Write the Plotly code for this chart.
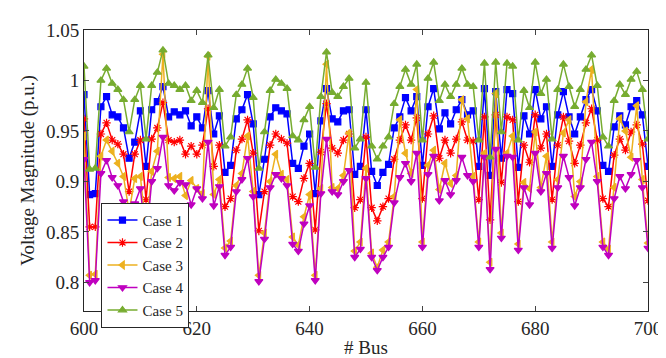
import plotly.graph_objects as go

bus = list(range(600, 701))

case1 = [0.986, 0.887, 0.888, 0.974, 0.984, 0.966, 0.964, 0.953, 0.923, 0.939,
         0.970, 0.915, 0.971, 0.979, 0.994, 0.964, 0.969, 0.966, 0.970, 0.955,
         0.964, 0.953, 0.990, 0.947, 0.965, 0.909, 0.916, 0.962, 0.971, 0.986,
         0.957, 0.887, 0.922, 0.964, 0.973, 0.970, 0.967, 0.918, 0.913, 0.935,
         0.947, 0.888, 0.960, 0.992, 0.962, 0.959, 0.970, 0.971, 0.907, 0.915,
         0.971, 0.910, 0.896, 0.909, 0.917, 0.953, 0.964, 0.983, 0.970, 0.984,
         0.916, 0.974, 0.992, 0.952, 0.968, 0.957, 0.971, 0.981, 0.966, 0.970,
         0.915, 0.992, 0.906, 0.989, 0.923, 0.991, 0.987, 0.914, 0.965, 0.947,
         0.991, 0.962, 0.974, 0.915, 0.966, 0.989, 0.964, 0.947, 0.964, 0.981,
         0.991, 0.970, 0.916, 0.910, 0.954, 0.965, 0.956, 0.974, 0.980, 0.966,
         0.915]

case2 = [0.962, 0.855, 0.855, 0.947, 0.958, 0.941, 0.937, 0.927, 0.890, 0.927,
         0.941, 0.882, 0.942, 0.953, 0.978, 0.941, 0.939, 0.941, 0.927, 0.935,
         0.927, 0.936, 0.972, 0.915, 0.936, 0.875, 0.883, 0.931, 0.942, 0.961,
         0.928, 0.851, 0.890, 0.936, 0.947, 0.942, 0.938, 0.885, 0.880, 0.903,
         0.918, 0.852, 0.929, 0.977, 0.933, 0.928, 0.941, 0.947, 0.874, 0.882,
         0.944, 0.874, 0.861, 0.875, 0.883, 0.922, 0.941, 0.956, 0.941, 0.963,
         0.883, 0.947, 0.965, 0.923, 0.941, 0.928, 0.942, 0.959, 0.941, 0.940,
         0.882, 0.964, 0.862, 0.966, 0.899, 0.964, 0.961, 0.880, 0.936, 0.919,
         0.966, 0.933, 0.947, 0.882, 0.936, 0.964, 0.940, 0.918, 0.936, 0.958,
         0.972, 0.941, 0.883, 0.875, 0.926, 0.942, 0.931, 0.949, 0.956, 0.937,
         0.881]

case3 = [0.945, 0.807, 0.808, 0.925, 0.941, 0.930, 0.918, 0.905, 0.870, 0.903,
         0.905, 0.850, 0.910, 0.930, 1.026, 0.904, 0.903, 0.905, 0.886, 0.901,
         0.893, 0.888, 1.024, 0.887, 0.902, 0.834, 0.841, 0.896, 0.908, 0.945,
         0.890, 0.807, 0.849, 0.900, 0.927, 0.907, 0.902, 0.845, 0.837, 0.865,
         0.887, 0.807, 0.893, 1.016, 0.894, 0.893, 0.906, 0.948, 0.831, 0.840,
         0.913, 0.829, 0.815, 0.832, 0.840, 0.885, 0.961, 0.928, 0.908, 0.991,
         0.840, 0.916, 0.931, 0.892, 0.918, 0.898, 0.906, 0.981, 0.962, 0.905,
         0.840, 0.928, 0.820, 0.987, 0.849, 0.928, 0.945, 0.838, 0.899, 0.893,
         0.949, 0.894, 0.925, 0.840, 0.902, 0.948, 0.961, 0.885, 0.900, 0.979,
         1.011, 0.905, 0.840, 0.833, 0.894, 0.962, 0.950, 0.924, 0.975, 0.902,
         0.839]

case4 = [0.922, 0.800, 0.802, 0.908, 0.921, 0.904, 0.896, 0.880, 0.855, 0.878,
         0.893, 0.840, 0.900, 0.913, 0.944, 0.896, 0.891, 0.899, 0.897, 0.877,
         0.893, 0.883, 0.939, 0.876, 0.895, 0.827, 0.835, 0.890, 0.902, 0.923,
         0.885, 0.801, 0.843, 0.894, 0.907, 0.903, 0.896, 0.838, 0.831, 0.858,
         0.876, 0.802, 0.888, 0.942, 0.890, 0.887, 0.900, 0.911, 0.825, 0.833,
         0.903, 0.825, 0.812, 0.825, 0.835, 0.879, 0.904, 0.918, 0.900, 0.928,
         0.835, 0.907, 0.925, 0.881, 0.901, 0.887, 0.901, 0.924, 0.906, 0.900,
         0.835, 0.924, 0.813, 0.932, 0.844, 0.925, 0.924, 0.832, 0.894, 0.877,
         0.928, 0.890, 0.908, 0.834, 0.894, 0.925, 0.904, 0.876, 0.894, 0.922,
         0.939, 0.900, 0.835, 0.827, 0.883, 0.905, 0.893, 0.907, 0.921, 0.894,
         0.834]

case5 = [1.014, 0.912, 0.913, 1.000, 1.012, 0.997, 0.991, 0.981, 0.949, 0.981,
         0.995, 0.942, 0.995, 1.008, 1.030, 0.997, 0.995, 0.991, 0.995, 0.980,
         0.990, 0.978, 1.025, 0.973, 0.991, 0.935, 0.944, 0.986, 0.996, 1.012,
         0.983, 0.913, 0.949, 0.990, 1.001, 0.997, 0.992, 0.945, 0.941, 0.961,
         0.974, 0.914, 0.984, 1.028, 0.988, 0.984, 0.994, 1.002, 0.933, 0.942,
         0.998, 0.935, 0.922, 0.935, 0.944, 0.977, 0.994, 1.011, 0.996, 1.016,
         0.941, 1.002, 1.018, 0.980, 0.996, 0.984, 0.996, 1.012, 0.996, 0.994,
         0.941, 1.017, 0.924, 1.018, 0.949, 1.017, 1.014, 0.941, 0.990, 0.973,
         1.018, 0.987, 1.001, 0.942, 0.991, 1.016, 0.994, 0.974, 0.991, 1.011,
         1.025, 0.995, 0.944, 0.935, 0.980, 0.996, 0.986, 1.001, 1.009, 0.991,
         0.942]

names = ["Case 1", "Case 2", "Case 3", "Case 4", "Case 5"]
series = [case1, case2, case3, case4, case5]
colors = ["#0000FF", "#FF0000", "#EDB120", "#BF00BF", "#77AC30"]
symbols = ["square", "asterisk-open", "triangle-left", "triangle-down", "triangle-up"]
sizes = [6, 7, 7, 7, 7]

x_ticks = [600, 620, 640, 660, 680, 700]
y_ticks = [0.8, 0.85, 0.9, 0.95, 1.0, 1.05]
y_tick_text = ["0.8", "0.85", "0.9", "0.95", "1", "1.05"]

fig = go.Figure()
for n, y, c, s, sz in zip(names, series, colors, symbols, sizes):
    fig.add_trace(go.Scatter(
        x=bus, y=y, name=n, mode="lines+markers",
        line=dict(color=c, width=1.5),
        marker=dict(symbol=s, size=sz, color=c, line=dict(color=c, width=1.2)),
    ))

font_family = "Liberation Serif, Times New Roman, serif"
fig.update_layout(
    width=666, height=358,
    margin=dict(l=76, r=15, t=15, b=45),
    paper_bgcolor="white", plot_bgcolor="white",
    font=dict(family=font_family, size=19, color="#262626"),
    showlegend=True,
    legend=dict(
        x=0.031, y=0.385, xanchor="left", yanchor="top",
        bgcolor="white", bordercolor="#262626", borderwidth=1,
        font=dict(family=font_family, size=15, color="#262626"),
        tracegroupgap=0, itemwidth=30,
    ),
)
fig.update_xaxes(
    range=[600, 700], tickvals=x_ticks, ticks="inside", ticklen=5,
    showline=True, linecolor="#262626", linewidth=1, mirror="ticks",
    showgrid=False, zeroline=False,
    title=dict(text="# Bus", font=dict(family=font_family, size=19), standoff=2),
)
fig.update_yaxes(
    range=[0.7717, 1.05], tickvals=y_ticks, ticktext=y_tick_text,
    ticks="inside", ticklen=5,
    showline=True, linecolor="#262626", linewidth=1, mirror="ticks",
    showgrid=False, zeroline=False,
    title=dict(text="Voltage Magnitude (p.u.)", font=dict(family=font_family, size=19), standoff=6),
)

fig.write_html("out.html")
